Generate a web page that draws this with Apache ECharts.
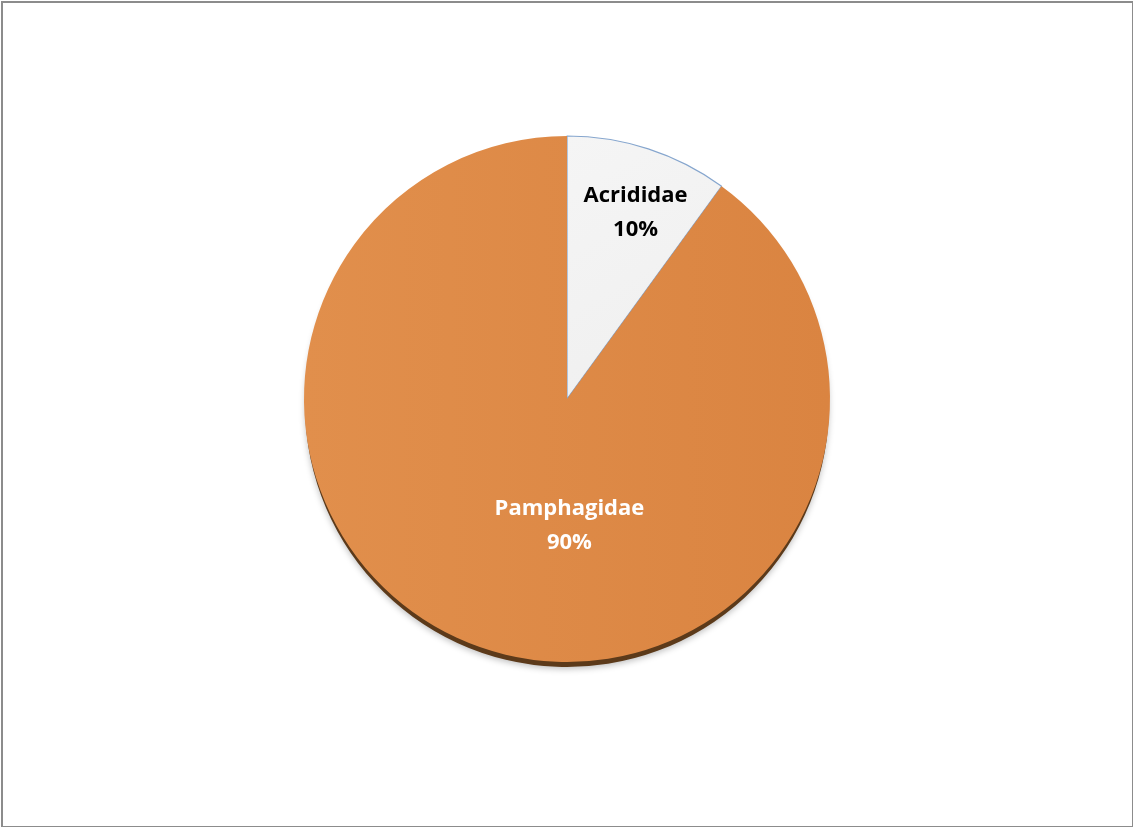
<!DOCTYPE html>
<html><head><meta charset="utf-8">
<script src="https://cdn.jsdelivr.net/npm/echarts@6/dist/echarts.min.js"></script>
<style>
html,body{margin:0;padding:0;background:#fff;}
#frame{position:absolute;left:1px;top:1px;width:1129px;height:823px;border:2px solid #8c8c8c;box-sizing:content-box;}
#chart{position:absolute;left:0;top:0;width:1133px;height:827px;}
</style></head>
<body>
<div id="chart"></div>
<div id="frame"></div>
<script>
const categories = ['Acrididae', 'Pamphagidae'];
const values = [10, 90];

const chart = echarts.init(document.getElementById('chart'), null, {renderer: 'canvas'});
const colors = [
  new echarts.graphic.LinearGradient(0, 0, 1, 1, [{offset: 0, color: '#F5F5F5'}, {offset: 1, color: '#EFEFEF'}]),
  new echarts.graphic.LinearGradient(0, 0, 1, 0, [{offset: 0, color: '#E18F4C'}, {offset: 1, color: '#DA8441'}])
];
const data = categories.map((c, i) => ({
  name: c,
  value: values[i],
  itemStyle: i === 0
    ? {color: colors[0], borderColor: '#86A6CE', borderWidth: 1.2}
    : {color: colors[1], borderColor: '#DD8946', borderWidth: 0},
  label: {color: i === 0 ? '#000000' : '#FFFFFF'}
}));
const labelShift = [[27, -58], [44, -1]];

chart.setOption({
  animation: false,
  series: [
    {
      type: 'pie',
      silent: true,
      center: [567, 405],
      radius: 262,
      startAngle: 90,
      label: {show: false},
      itemStyle: {color: '#5C3A1A', shadowColor: 'rgba(0,0,0,0.25)', shadowBlur: 6, shadowOffsetY: 2},
      data: categories.map((c, i) => ({name: c, value: values[i]}))
    },
    {
      type: 'pie',
      center: [567, 399],
      radius: 263,
      startAngle: 90,
      clockwise: true,
      label: {
        show: true,
        position: 'inside',
        formatter: p => p.name + '\n' + Math.round(p.percent) + '%',
        fontFamily: 'Open Sans',
        fontWeight: 'bold',
        fontSize: 22,
        lineHeight: 34,
        align: 'center'
      },
      labelLine: {show: false},
      labelLayout: p => ({dx: labelShift[p.dataIndex][0], dy: labelShift[p.dataIndex][1]}),
      data: data
    }
  ]
});
</script>
</body></html>
